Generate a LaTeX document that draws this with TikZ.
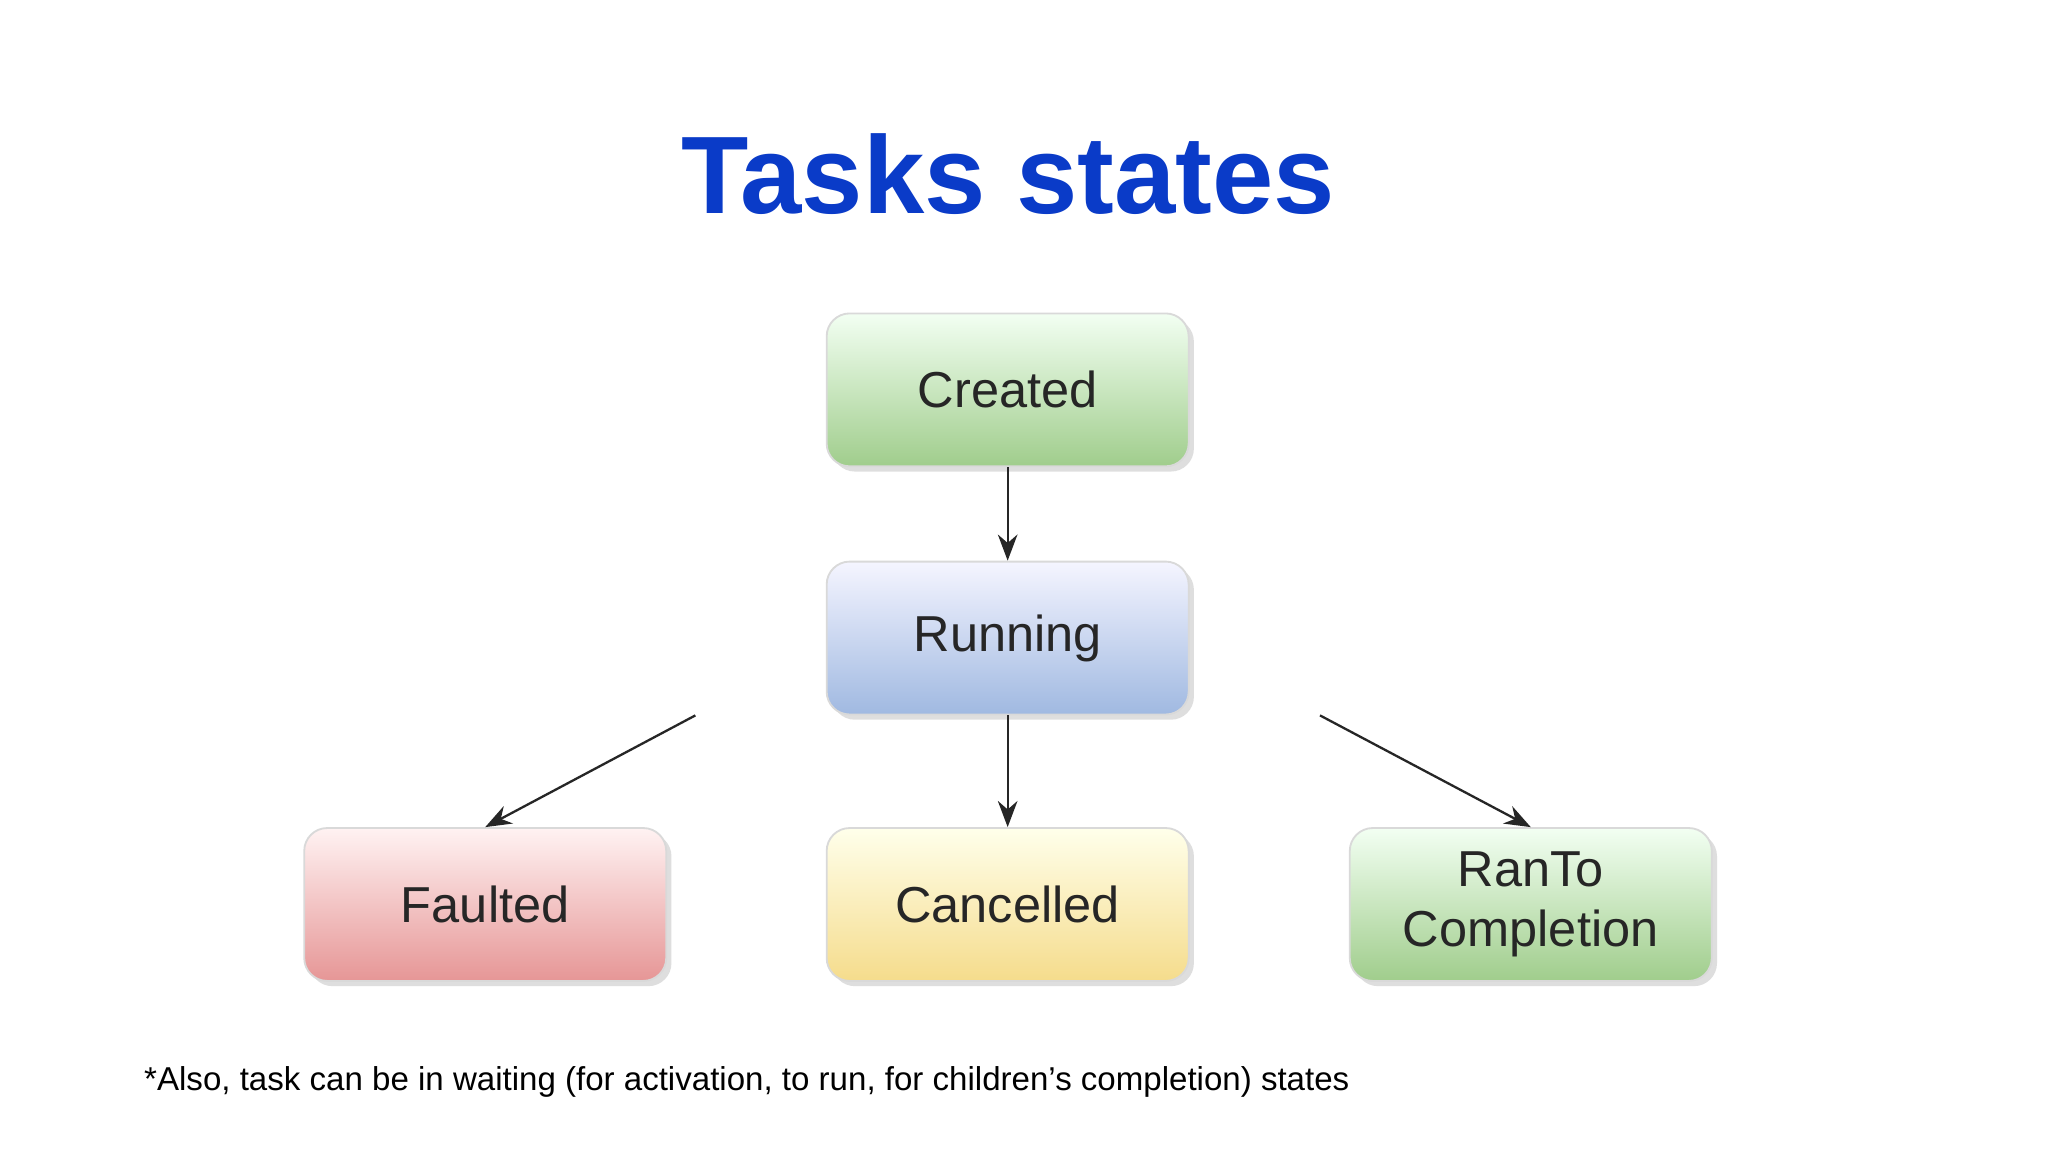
\documentclass[tikz,border=0pt]{standalone}
\usepackage{fontspec}
\setmainfont{Liberation Sans}
\usetikzlibrary{shadows,arrows.meta}
\definecolor{ttl}{HTML}{0A3BC8}
\tikzset{
 state/.style={draw=black!15,rounded corners=5pt,minimum width=2.77cm,minimum height=1.17cm,
   align=center,font=\fontsize{11}{13}\selectfont,text=black!85,
   drop shadow={shadow xshift=0.4mm,shadow yshift=-0.4mm,fill=black!25,opacity=0.5}},
 green/.style={state,top color=green!5!white,bottom color={rgb,255:red,160;green,205;blue,140}},
 blue/.style={state,top color=blue!4!white,bottom color={rgb,255:red,160;green,185;blue,225}},
 red/.style={state,top color=red!5!white,bottom color={rgb,255:red,230;green,150;blue,150}},
 yellow/.style={state,top color=yellow!8!white,bottom color={rgb,255:red,245;green,220;blue,140}},
 conn/.style={-{Stealth[length=2mm]},black!85,line width=0.5pt}
}
\begin{document}
\begin{tikzpicture}[x=0.01cm,y=-0.01cm]
\useasboundingbox[fill=white] (0,0) rectangle (1568,882);
\node[font=\fontsize{24}{28}\bfseries\selectfont,text=ttl] (title) at (772,133) {Tasks states};
\node[green] (created) at (771.5,298.5) {Created};
\node[blue] (running) at (771.5,488.5) {Running};
\node[red] (faulted) at (371.5,692.5) {Faulted};
\node[yellow] (cancelled) at (771.5,692.5) {Cancelled};
\node[green] (ran) at (1172,692.5) {RanTo\\Completion};
\draw[conn] (created) -- (running);
\draw[conn] (running.south) -- (cancelled.north);
\draw[conn] ([xshift=-68]running.south) -- (faulted.north);
\draw[conn] ([xshift=68]running.south) -- (ran.north);
\node[anchor=west,font=\fontsize{7.2}{9}\selectfont] (note) at (98,828) {*Also, task can be in waiting (for activation, to run, for children’s completion) states};
\end{tikzpicture}
\end{document}
